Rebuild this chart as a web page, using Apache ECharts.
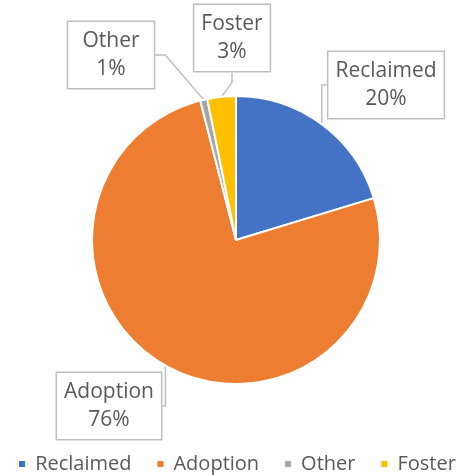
<!DOCTYPE html>
<html>
<head>
<meta charset="utf-8">
<script src="https://cdn.jsdelivr.net/npm/echarts@6/dist/echarts.min.js"></script>
<style>
  html, body { margin: 0; padding: 0; background: #fff; }
  #chart { width: 473px; height: 475px; }
</style>
</head>
<body>
<div id="chart"></div>
<script>
var categories = ['Reclaimed', 'Adoption', 'Other', 'Foster'];
var values = [20.3, 75.7, 0.8, 3.2];
var colors = ['#4472C4', '#ED7D31', '#A5A5A5', '#FFC000'];

// where each callout box sits (centre of the box)
var labelSpots = [
  { x: 386, y: 85 },
  { x: 109, y: 406 },
  { x: 111, y: 55 },
  { x: 232, y: 38 }
];

var chart = echarts.init(document.getElementById('chart'));

var option = {
  color: colors,
  textStyle: { fontFamily: 'Open Sans' },
  legend: {
    bottom: -4,
    left: 'center',
    icon: 'rect',
    itemWidth: 8,
    itemHeight: 8,
    itemGap: 24,
    textStyle: { color: '#595959', fontSize: 20, fontFamily: 'Open Sans', padding: [0, 0, 0, 4] },
    data: categories
  },
  series: [{
    type: 'pie',
    center: [236, 240],
    radius: 144,
    startAngle: 90,
    percentPrecision: 0,
    itemStyle: { borderColor: '#fff', borderWidth: 2 },
    label: {
      formatter: '{b}\n{d}%',
      color: '#595959',
      fontSize: 21,
      fontFamily: 'Open Sans',
      lineHeight: 28,
      backgroundColor: '#fff',
      borderColor: '#BFBFBF',
      borderWidth: 1.5,
      padding: [5, 7, 5, 7],
      align: 'center'
    },
    labelLine: {
      show: true,
      length: 10,
      length2: 10,
      lineStyle: { color: '#BFBFBF', width: 1.5 }
    },
    labelLayout: function (params) {
      var s = labelSpots[params.dataIndex];
      return { x: s.x, y: s.y, align: 'center', verticalAlign: 'middle' };
    },
    emphasis: { disabled: true },
    data: categories.map(function (c, i) {
      return { name: c, value: values[i] };
    })
  }]
};

chart.setOption(option);
</script>
</body>
</html>
